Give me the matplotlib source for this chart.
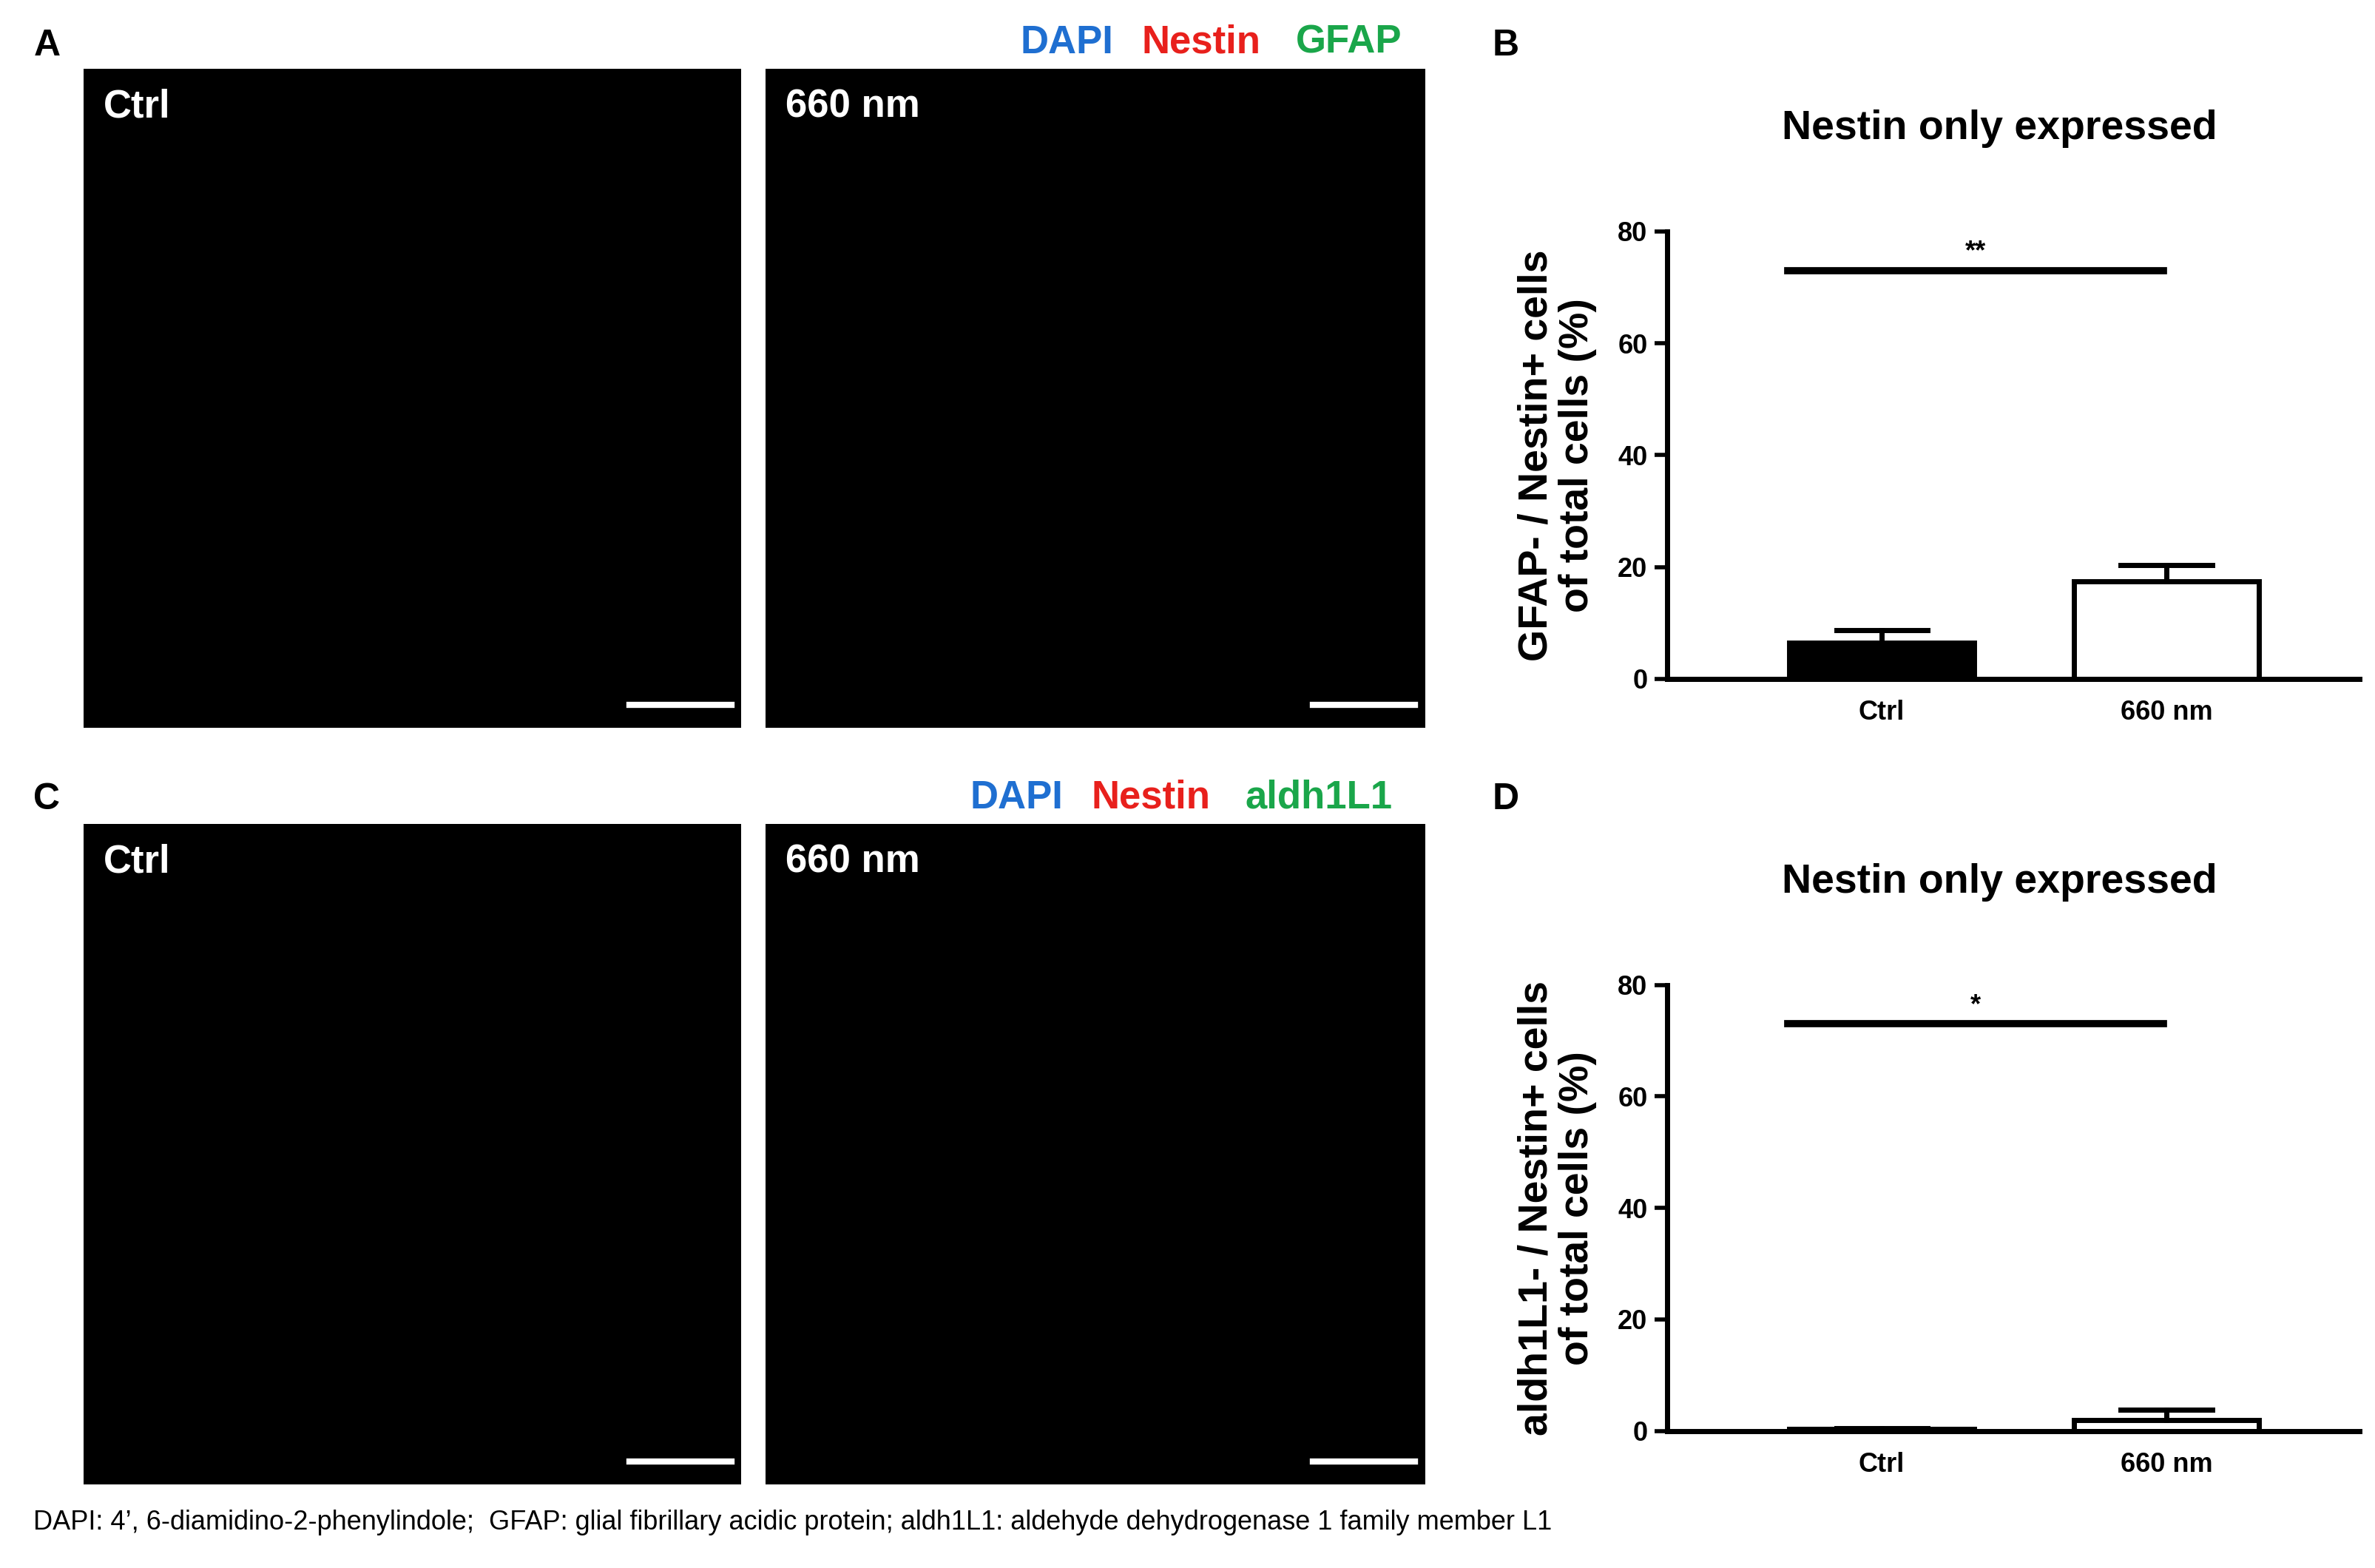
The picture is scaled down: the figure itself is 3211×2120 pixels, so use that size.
import matplotlib
matplotlib.use("Agg")
import matplotlib.pyplot as plt

categories = ["Ctrl", "660 nm"]
b_values = [6.5, 17.5]
b_errors = [2.2, 2.8]
d_values = [0.3, 2.0]
d_errors = [0.2, 1.8]
yticks = [0, 20, 40, 60, 80]

W, H = 1560.0, 1030.0
fig = plt.figure(figsize=(16.055, 10.6), dpi=200)
plt.rcParams['font.family'] = ['Arial', 'Liberation Sans', 'DejaVu Sans']

def rect(x0, y0, x1, y1):
    return [x0 / W, 1 - y1 / H, (x1 - x0) / W, (y1 - y0) / H]

def ftext(x, y, s, **kw):
    fig.text(x / W, 1 - y / H, s, **kw)

for (x0, y0, x1, y1, lab) in [(55, 45, 487, 478, "Ctrl"), (503, 45, 936, 478, "660 nm"),
                               (55, 541, 487, 975, "Ctrl"), (503, 541, 936, 975, "660 nm")]:
    ax = fig.add_axes(rect(x0, y0, x1, y1))
    ax.set_facecolor("black")
    ax.set_xlim(0, 1); ax.set_ylim(0, 1)
    ax.set_xticks([]); ax.set_yticks([])
    for s in ax.spines.values():
        s.set_visible(False)
    ax.text(0.03, 0.97, lab, color="white", fontsize=19, fontweight="bold", va="top")
    ax.plot([0.83, 0.985], [0.035, 0.035], color="white", lw=3)

ftext(22, 30, "A", fontsize=18, fontweight="bold", va="center")
ftext(22, 525, "C", fontsize=18, fontweight="bold", va="center")
ftext(980, 30, "B", fontsize=18, fontweight="bold", va="center")
ftext(980, 525, "D", fontsize=18, fontweight="bold", va="center")

def legend_row(y, third):
    items = [("DAPI", "#1f6fd1"), ("Nestin", "#e8201c"), (third, "#1aa64a")]
    xs = {"GFAP": [670, 750, 851], "aldh1L1": [637, 717, 818]}[third]
    for (s, c), x in zip(items, xs):
        ftext(x, y, s, color=c, fontsize=19, fontweight="bold", va="center")

legend_row(28, "GFAP")
legend_row(524, "aldh1L1")

def bar_panel(y80, y0, vals, errs, ylabel, star):
    ax = fig.add_axes(rect(1095, y80, 1550, y0))
    x = [0, 1]
    ax.bar(x, vals, width=0.65, color=["black", "white"], edgecolor="black", linewidth=2.5, zorder=2)
    for xi, v, e in zip(x, vals, errs):
        ax.plot([xi, xi], [v, v + e], color="black", lw=2.5)
        ax.plot([xi - 0.16, xi + 0.16], [v + e, v + e], color="black", lw=2.5)
    ax.plot([-0.33, 0.99], [73, 73], color="black", lw=3.5)
    ax.text(0.33, 74, star, ha="center", va="bottom", fontsize=13, fontweight="bold")
    ax.set_xlim(-0.754, 1.679)
    ax.set_ylim(0, 80)
    ax.set_yticks(yticks)
    ax.set_xticks(x)
    ax.set_xticklabels(categories, fontsize=13, fontweight="bold")
    ax.tick_params(axis="y", labelsize=13, width=2, length=6)
    ax.tick_params(axis="x", length=0, pad=10)
    for l in ax.get_yticklabels():
        l.set_fontweight("bold")
    for s in ["top", "right"]:
        ax.spines[s].set_visible(False)
    for s in ["left", "bottom"]:
        ax.spines[s].set_linewidth(2.5)
    ax.set_ylabel(ylabel, fontsize=20, fontweight="bold", linespacing=1.1, labelpad=10)
    ax.set_title("Nestin only expressed", fontsize=20, fontweight="bold", pad=45, x=0.48)

bar_panel(152, 446, b_values, b_errors, "GFAP- / Nestin+ cells\nof total cells (%)", "**")
bar_panel(647, 940, d_values, d_errors, "aldh1L1- / Nestin+ cells\nof total cells (%)", "*")

ftext(22, 1000, "DAPI: 4\u2019, 6-diamidino-2-phenylindole;  GFAP: glial fibrillary acidic protein; aldh1L1: aldehyde dehydrogenase 1 family member L1",
      fontsize=13, va="center")

fig.savefig("out.png", dpi=200)
